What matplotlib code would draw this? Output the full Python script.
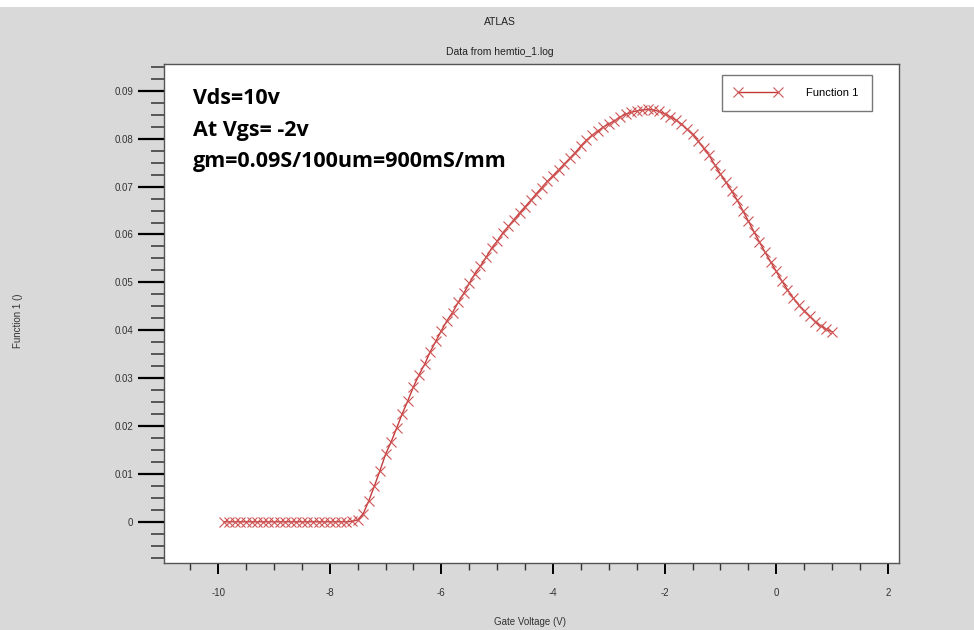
import matplotlib
matplotlib.use("Agg")
import matplotlib.pyplot as plt
from matplotlib.ticker import MultipleLocator, FuncFormatter
from matplotlib.patches import Rectangle

plt.rcParams["font.family"] = ["Liberation Sans", "DejaVu Sans"]
plt.rcParams["axes.unicode_minus"] = False

# gate voltage sweep (V)
vgs = [-9.9, -9.8, -9.7, -9.6, -9.5, -9.4, -9.3, -9.2, -9.1, -9.0,
       -8.9, -8.8, -8.7, -8.6, -8.5, -8.4, -8.3, -8.2, -8.1, -8.0,
       -7.9, -7.8, -7.7, -7.6, -7.5, -7.4, -7.3, -7.2, -7.1, -7.0,
       -6.9, -6.8, -6.7, -6.6, -6.5, -6.4, -6.3, -6.2, -6.1, -6.0,
       -5.9, -5.8, -5.7, -5.6, -5.5, -5.4, -5.3, -5.2, -5.1, -5.0,
       -4.9, -4.8, -4.7, -4.6, -4.5, -4.4, -4.3, -4.2, -4.1, -4.0,
       -3.9, -3.8, -3.7, -3.6, -3.5, -3.4, -3.3, -3.2, -3.1, -3.0,
       -2.9, -2.8, -2.7, -2.6, -2.5, -2.4, -2.3, -2.2, -2.1, -2.0,
       -1.9, -1.8, -1.7, -1.6, -1.5, -1.4, -1.3, -1.2, -1.1, -1.0,
       -0.9, -0.8, -0.7, -0.6, -0.5, -0.4, -0.3, -0.2, -0.1, 0.0,
       0.1, 0.2, 0.3, 0.4, 0.5, 0.6, 0.7, 0.8, 0.9, 1.0]

# transconductance gm (S) at Vds = 10 V
gm = [0, 0, 0, 0, 0, 0, 0, 0, 0, 0,
      0, 0, 0, 0, 0, 0, 0, 0, 0, 0,
      0, 0, 0, 0.0001, 0.0004, 0.0017, 0.0044, 0.0075, 0.0107, 0.0141,
      0.0167, 0.0196, 0.0226, 0.0253, 0.0282, 0.0307, 0.0329, 0.0355, 0.0377, 0.0399,
      0.0420, 0.0437, 0.0458, 0.0477, 0.0498, 0.0518, 0.0534, 0.0552, 0.0571, 0.0586,
      0.0603, 0.0617, 0.0631, 0.0645, 0.0658, 0.0671, 0.0685, 0.0698, 0.0711, 0.0723,
      0.0735, 0.0747, 0.0759, 0.0771, 0.0785, 0.0797, 0.0807, 0.0816, 0.0824, 0.0831,
      0.0837, 0.0845, 0.0851, 0.0855, 0.0858, 0.0860, 0.0861, 0.0860, 0.0857, 0.0852,
      0.0846, 0.0839, 0.0831, 0.0820, 0.0809, 0.0795, 0.0780, 0.0765, 0.0745, 0.0726,
      0.0709, 0.0691, 0.0672, 0.0650, 0.0628, 0.0606, 0.0584, 0.0563, 0.0543, 0.0523,
      0.0503, 0.0485, 0.0468, 0.0453, 0.0440, 0.0429, 0.0418, 0.0409, 0.0402, 0.0397]

notes = ["Vds=10v", "At Vgs= -2v", "gm=0.09S/100um=900mS/mm"]

W, H = 974, 630
fig = plt.figure(figsize=(W / 100, H / 100), dpi=100, facecolor="#d9d9d9")
fig.patches.append(Rectangle((0, 1 - 7 / H), 1, 7 / H, transform=fig.transFigure,
                             facecolor="white", edgecolor="none", zorder=0))

ax = fig.add_axes([164 / W, 1 - 563 / H, (899 - 164) / W, (563 - 64) / H])
ax.set_facecolor("white")

ax.plot(vgs, gm, color="#c43a3a", lw=1.0, marker="x", ms=7.5, mew=0.8,
        mec="#cf5555", label="Function 1")

ax.set_xlim(-10.97, 2.2)
ax.set_ylim(-0.0086, 0.0956)

ax.xaxis.set_major_locator(MultipleLocator(2))
ax.xaxis.set_minor_locator(MultipleLocator(0.5))
ax.yaxis.set_major_locator(MultipleLocator(0.01))
ax.yaxis.set_minor_locator(MultipleLocator(0.0025))
ax.yaxis.set_major_formatter(FuncFormatter(lambda v, p: "%g" % round(v, 4)))

ax.tick_params(axis="y", which="major", direction="out", length=19, width=1.6,
               color="black", labelsize=7, labelcolor="#333333", pad=3)
ax.tick_params(axis="y", which="minor", direction="out", length=9.5, width=1.1,
               color="#333333")
ax.tick_params(axis="x", which="major", direction="out", length=8, width=1.4,
               color="black", labelsize=7, labelcolor="#333333", pad=10)
ax.tick_params(axis="x", which="minor", direction="out", length=5, width=1.0,
               color="#333333")

for s in ax.spines.values():
    s.set_color("#555555")
    s.set_linewidth(1.0)

fig.text(500 / W, 1 - 22 / H, "ATLAS", ha="center", va="center", fontsize=7.5,
         color="#222222")
fig.text(500 / W, 1 - 52 / H, "Data from hemtio_1.log", ha="center", va="center",
         fontsize=7.5, color="#222222")
fig.text(530 / W, 1 - 622 / H, "Gate Voltage (V)", ha="center", va="center",
         fontsize=7, color="#333333")
fig.text(18 / W, 1 - 321 / H, "Function 1 ()", ha="center", va="center",
         rotation=90, fontsize=7, color="#333333")

for i, line in enumerate(notes):
    ax.text(0.039, 0.93 - i * 0.063, line, transform=ax.transAxes, ha="left",
            va="center", fontsize=15.5, fontweight="bold", family="Open Sans",
            color="black")

leg = ax.legend(loc="upper right", bbox_to_anchor=(0.963, 0.978), fontsize=8,
                numpoints=2, handlelength=4.2, handletextpad=2.25, borderpad=1.17,
                borderaxespad=0, frameon=True, fancybox=False, edgecolor="#555555")
leg.get_frame().set_linewidth(1.0)

fig.savefig("out.png", dpi=100, facecolor=fig.get_facecolor())
